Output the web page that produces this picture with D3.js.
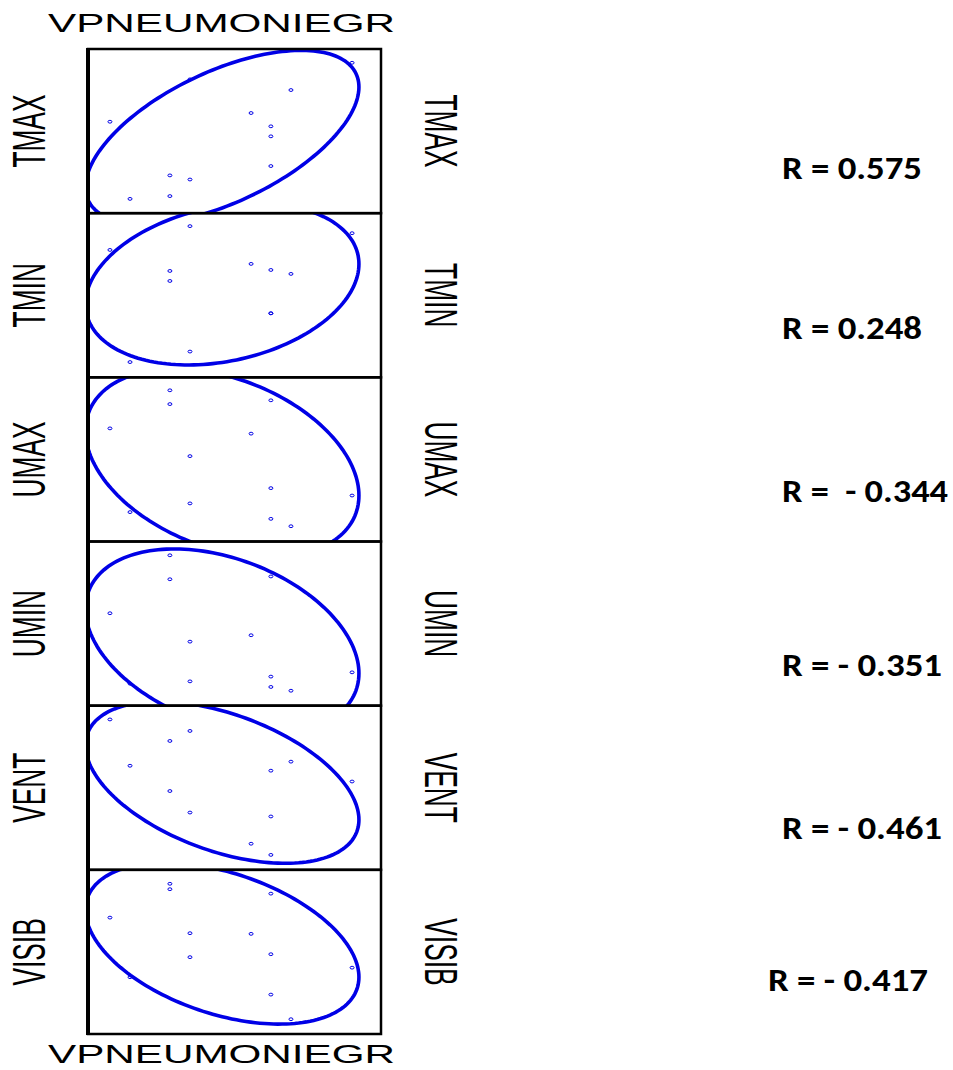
<!DOCTYPE html>
<html>
<head>
<meta charset="utf-8">
<script src="https://cdn.jsdelivr.net/npm/d3@7"></script>
<style>
  body { margin: 0; background: #fff; }
</style>
</head>
<body>
<div id="chart"></div>
<script>
// x variable, same for every panel (12 observations)
var xName = "VPNEUMONIEGR";
var xVals = [7.2, 14.1, 27.8, 27.8, 34.7, 34.7, 55.7, 62.5, 62.5, 62.5, 69.4, 90.4];

// y variables, one per panel
var yNames = ["TMAX", "TMIN", "UMAX", "UMIN", "VENT", "VISIB"];
var tmax  = [55.7, 8.7, 23.0, 10.4, 81.5, 20.5, 61.0, 52.9, 46.8, 28.7, 75.0, 91.6];
var tmin  = [77.6, 9.3, 64.8, 58.7, 92.1, 15.7, 69.1, 65.4, 39.0, 39.0, 63.0, 87.8];
var umax  = [68.9, 17.9, 92.1, 83.7, 52.0, 23.2, 65.7, 86.0, 32.5, 13.8, 9.3, 28.0];
var umin  = [56.3, 13.4, 91.6, 77.0, 39.0, 14.8, 42.9, 78.7, 17.7, 11.4, 9.1, 20.3];
var vent  = [91.6, 63.4, 78.5, 48.0, 84.6, 34.9, 15.9, 60.4, 32.5, 9.1, 65.9, 53.8];
var visib = [70.9, 34.6, 91.5, 88.2, 61.4, 46.8, 61.0, 85.5, 48.6, 24.0, 9.0, 40.4];
var yVals = [tmax, tmin, umax, umin, vent, visib];

var rLabels = ["R = 0.575", "R = 0.248", "R =  - 0.344", "R = - 0.351", "R = - 0.461", "R = - 0.417"];

var width = 953, height = 1070;
var blue = "#0000e6";
var k = 1.88; // ellipse size in standard deviations

var svg = d3.select("#chart").append("svg")
    .attr("width", width)
    .attr("height", height);

var band = d3.scaleBand().domain(yNames).range([49, 1034]).paddingInner(0);
var x = d3.scaleLinear().domain([0, 100]).range([89, 380]);
var left = 88, right = 381;

var defs = svg.append("defs");

yNames.forEach(function(name, i) {
  var top = band(name), bot = top + band.bandwidth();
  var y = d3.scaleLinear().domain([0, 100]).range([bot, top]);
  var ys = yVals[i];

  defs.append("clipPath").attr("id", "clip" + i)
    .append("rect")
    .attr("x", left).attr("y", top)
    .attr("width", right - left).attr("height", bot - top);

  var g = svg.append("g");

  // confidence ellipse from mean and covariance
  var n = xVals.length;
  var mx = d3.mean(xVals), my = d3.mean(ys);
  var sxx = d3.sum(xVals, function(v) { return (v - mx) * (v - mx); }) / (n - 1);
  var syy = d3.sum(ys, function(v) { return (v - my) * (v - my); }) / (n - 1);
  var sxy = d3.sum(xVals, function(v, j) { return (v - mx) * (ys[j] - my); }) / (n - 1);
  var a = Math.sqrt(sxx), b = sxy / a, c = Math.sqrt(syy - b * b);
  var pts = d3.range(0, 361, 2).map(function(d) {
    var t = d * Math.PI / 180;
    return [mx + k * a * Math.cos(t), my + k * (b * Math.cos(t) + c * Math.sin(t))];
  });
  var line = d3.line().x(function(p) { return x(p[0]); }).y(function(p) { return y(p[1]); });

  g.append("path")
    .attr("clip-path", "url(#clip" + i + ")")
    .attr("d", line(pts) + "Z")
    .attr("fill", "none")
    .attr("stroke", blue)
    .attr("stroke-width", 3.6);

  g.selectAll("ellipse.pt").data(ys).enter().append("ellipse")
    .attr("class", "pt")
    .attr("cx", function(d, j) { return x(xVals[j]); })
    .attr("cy", function(d) { return y(d); })
    .attr("rx", 2)
    .attr("ry", 1.4)
    .attr("fill", "none")
    .attr("stroke", blue)
    .attr("stroke-width", 1);

  // panel frame
  g.append("rect")
    .attr("x", left).attr("y", top)
    .attr("width", right - left).attr("height", bot - top)
    .attr("fill", "none")
    .attr("stroke", "#000")
    .attr("stroke-width", 2.5);

  var cy = (top + bot) / 2;

  // left label
  var tl = svg.append("text")
    .attr("transform", "translate(45," + cy + ") rotate(-90)")
    .attr("text-anchor", "middle")
    .attr("font-family", "Liberation Sans, Arial, sans-serif")
    .attr("font-size", 45.5)
    .text(name);
  tl.attr("textLength", tl.node().getComputedTextLength() * 0.578)
    .attr("lengthAdjust", "spacingAndGlyphs");

  // right label
  var tr = svg.append("text")
    .attr("transform", "translate(425," + cy + ") rotate(90)")
    .attr("text-anchor", "middle")
    .attr("font-family", "Liberation Sans, Arial, sans-serif")
    .attr("font-size", 45.5)
    .text(name);
  tr.attr("textLength", tr.node().getComputedTextLength() * 0.578)
    .attr("lengthAdjust", "spacingAndGlyphs");
});

// thick left edge
svg.append("line")
  .attr("x1", left).attr("x2", left)
  .attr("y1", 48).attr("y2", 1035)
  .attr("stroke", "#000")
  .attr("stroke-width", 4);

// x variable names top and bottom
[32, 1063].forEach(function(yy) {
  svg.append("text")
    .attr("x", 48)
    .attr("y", yy)
    .attr("font-family", "Liberation Sans, Arial, sans-serif")
    .attr("font-size", 26.5)
    .attr("textLength", 347)
    .attr("lengthAdjust", "spacingAndGlyphs")
    .text(xName);
});

// correlation labels
var rY = [179, 339, 502, 676, 839, 991];
var rX = [782, 782, 782, 782, 782, 768];
var rW = [140, 140, 166, 160, 160, 160];
svg.selectAll("text.r").data(rLabels).enter().append("text")
  .attr("class", "r")
  .attr("x", function(d, i) { return rX[i]; })
  .attr("y", function(d, i) { return rY[i]; })
  .attr("font-family", "Carlito, Lato, sans-serif")
  .attr("font-weight", "bold")
  .attr("font-size", 32)
  .attr("xml:space", "preserve")
  .style("white-space", "pre")
  .attr("textLength", function(d, i) { return rW[i]; })
  .attr("lengthAdjust", "spacingAndGlyphs")
  .text(function(d) { return d; });
</script>
</body>
</html>
